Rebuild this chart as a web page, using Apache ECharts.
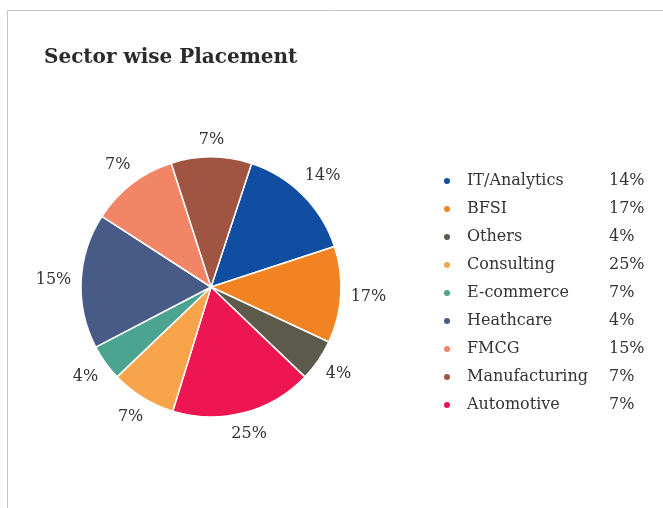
<!DOCTYPE html>
<html>
<head>
<meta charset="utf-8">
<title>Sector wise Placement</title>
<script src="https://cdn.jsdelivr.net/npm/echarts@6/dist/echarts.min.js"></script>
<style>
  html, body { margin: 0; padding: 0; background: #fff; }
  #chart { width: 663px; height: 508px; }
</style>
</head>
<body>
<div id="chart"></div>
<script>
// pie slices, clockwise from the blue one
const sectors = ["IT/Analytics", "BFSI", "Others", "Automotive", "Consulting", "E-commerce", "Heathcare", "FMCG", "Manufacturing"];
const shares = [14.9, 12.0, 5.2, 17.6, 8.1, 4.5, 16.8, 10.9, 10.0];
const sliceLabels = ["14%", "17%", "4%", "25%", "7%", "4%", "15%", "7%", "7%"];
const colors = ["#0f4ea1", "#f28322", "#5b5a4b", "#ee1652", "#f7a44a", "#4ba48f", "#485b86", "#f38567", "#a05542"];

// legend table, as printed
const legendNames = ["IT/Analytics", "BFSI", "Others", "Consulting", "E-commerce", "Heathcare", "FMCG", "Manufacturing", "Automotive"];
const legendPct = ["14%", "17%", "4%", "25%", "7%", "4%", "15%", "7%", "7%"];

const FONT = "DejaVu Serif";
const cx = 211, cy = 287, R = 130, START = 71.8, GAP = 9.5;

const total = shares.reduce((a, b) => a + b, 0);
const cum = [];
shares.reduce((acc, v, i) => { cum[i] = acc; return acc + v; }, 0);

const chart = echarts.init(document.getElementById("chart"));

chart.setOption({
  animation: false,
  graphic: [{
    type: "rect",
    shape: { x: 7.5, y: 10.5, width: 700, height: 600 },
    style: { fill: "none", stroke: "#c4c4c4", lineWidth: 1 }
  }],
  title: {
    text: "Sector wise Placement",
    left: 39,
    top: 43,
    textStyle: { fontFamily: FONT, fontSize: 20, fontWeight: "bold", color: "#2b2b2b" }
  },
  legend: {
    orient: "vertical",
    left: 437,
    top: 166,
    icon: "circle",
    itemWidth: 8,
    itemHeight: 8,
    itemGap: 8,
    data: legendNames,
    formatter: function (name) {
      return "{n|" + name + "}{v|" + legendPct[legendNames.indexOf(name)] + "}";
    },
    textStyle: {
      fontFamily: FONT,
      fontSize: 16,
      color: "#333",
      rich: {
        n: { fontFamily: FONT, fontSize: 16, color: "#333", width: 142, height: 20, lineHeight: 20, padding: [0, 0, 0, 11] },
        v: { fontFamily: FONT, fontSize: 16, color: "#333", height: 20, lineHeight: 20 }
      }
    }
  },
  series: [{
    type: "pie",
    center: [cx, cy],
    radius: R,
    startAngle: START,
    clockwise: true,
    avoidLabelOverlap: false,
    itemStyle: { borderColor: "#fff", borderWidth: 1.5 },
    label: {
      show: true,
      position: "outside",
      fontFamily: FONT,
      fontSize: 16,
      color: "#333",
      formatter: p => sliceLabels[p.dataIndex]
    },
    labelLine: { show: false },
    labelLayout: function (p) {
      const i = p.dataIndex;
      const a = (START - (cum[i] + shares[i] / 2) / total * 360) * Math.PI / 180;
      const ux = Math.cos(a), uy = -Math.sin(a);
      const w = p.labelRect.width, h = p.labelRect.height;
      const d = R + GAP + Math.abs(ux) * w / 2 + Math.abs(uy) * h / 2;
      return { x: cx + ux * d, y: cy + uy * d, align: "center", verticalAlign: "middle" };
    },
    emphasis: { disabled: true },
    data: sectors.map((s, i) => ({ name: s, value: shares[i], itemStyle: { color: colors[i] } }))
  }]
});
</script>
</body>
</html>
